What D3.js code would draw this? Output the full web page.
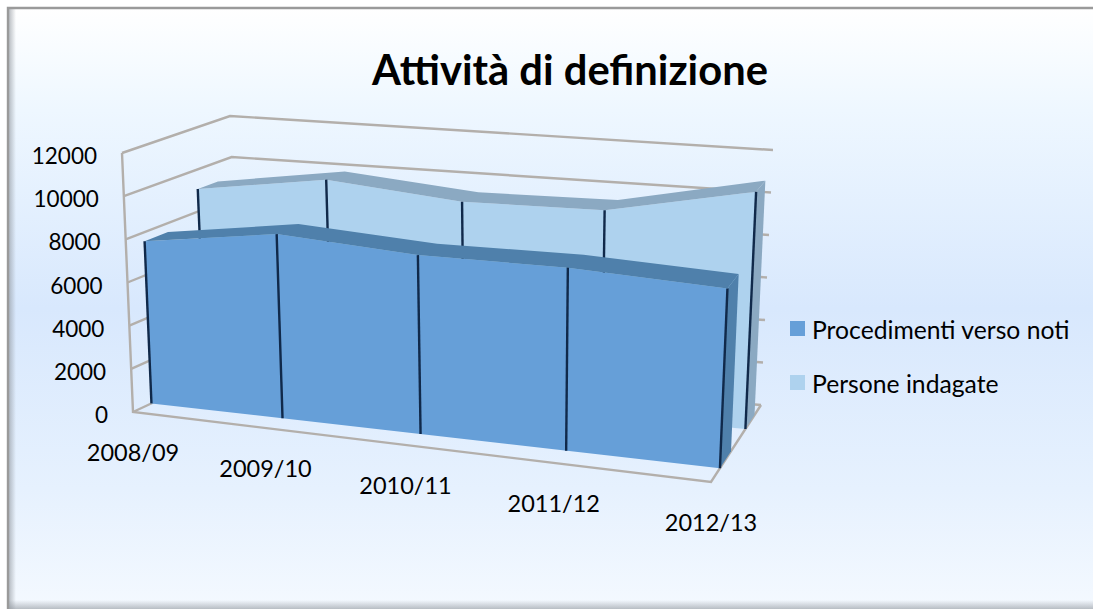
<!DOCTYPE html>
<html>
<head>
<meta charset="utf-8">
<script src="https://cdn.jsdelivr.net/npm/d3@7"></script>
<style>
  html, body { margin: 0; padding: 0; background: #fff; overflow: hidden; }
  text { font-family: Lato, sans-serif; fill: #000; }
</style>
</head>
<body>
<svg></svg>
<script>
const categories = ['2008/09', '2009/10', '2010/11', '2011/12', '2012/13'];
const procedimenti = [7580, 8510, 8170, 8260, 8020];
const persone = [9070, 9990, 9440, 9550, 10930];
const yTicks = [0, 2000, 4000, 6000, 8000, 10000, 12000];
const seriesNames = ['Procedimenti verso noti', 'Persone indagate'];

const width = 1093;
const height = 609;

const svg = d3.select('svg')
  .attr('width', width)
  .attr('height', height);

const defs = svg.append('defs');

// Background of the chart area
const bgGrad = defs.append('linearGradient')
  .attr('id', 'bg').attr('x1', 0).attr('y1', 0).attr('x2', 0).attr('y2', 1);
[[0, '#ffffff'], [0.17, '#eef7ff'], [0.5, '#d8e8fd'], [0.8, '#e6f1fe'], [1, '#f4f9ff']]
  .forEach(s => bgGrad.append('stop').attr('offset', s[0]).attr('stop-color', s[1]));

const edgeGrad = defs.append('linearGradient')
  .attr('id', 'edge').attr('x1', 0).attr('y1', 0).attr('x2', 1).attr('y2', 0);
edgeGrad.append('stop').attr('offset', 0).attr('stop-color', '#8f959c').attr('stop-opacity', 0.6);
edgeGrad.append('stop').attr('offset', 1).attr('stop-color', '#8f959c').attr('stop-opacity', 0);

const bottomGrad = defs.append('linearGradient')
  .attr('id', 'bottom').attr('x1', 0).attr('y1', 0).attr('x2', 0).attr('y2', 1);
bottomGrad.append('stop').attr('offset', 0).attr('stop-color', '#8f959c').attr('stop-opacity', 0);
bottomGrad.append('stop').attr('offset', 1).attr('stop-color', '#8f959c').attr('stop-opacity', 0.6);

svg.append('rect').attr('x', 8).attr('y', 8).attr('width', 1085).attr('height', 601).attr('fill', 'url(#bg)');
svg.append('rect').attr('x', 9).attr('y', 9).attr('width', 7).attr('height', 600).attr('fill', 'url(#edge)');
svg.append('rect').attr('x', 8).attr('y', 600).attr('width', 1085).attr('height', 9).attr('fill', 'url(#bottom)');
svg.append('path').attr('d', 'M8,609V8H1093')
  .attr('fill', 'none').attr('stroke', '#9a9a9a').attr('stroke-width', 2.4);

// Corners of the floor and of the ceiling of the 3D box, as seen on screen
const floorQuad = [[133, 412], [711, 482], [761, 405], [240, 362]];
const topQuad = [[122, 153], [722, 210], [773, 150], [230, 116]];

// square to quad homography
function homography(q) {
  const [[x0, y0], [x1, y1], [x2, y2], [x3, y3]] = q;
  const dx1 = x1 - x2, dx2 = x3 - x2, sx = x0 - x1 + x2 - x3;
  const dy1 = y1 - y2, dy2 = y3 - y2, sy = y0 - y1 + y2 - y3;
  const den = dx1 * dy2 - dx2 * dy1;
  const g = (sx * dy2 - dx2 * sy) / den;
  const h = (dx1 * sy - sx * dy1) / den;
  const a = x1 - x0 + g * x1, b = x3 - x0 + h * x3;
  const d = y1 - y0 + g * y1, e = y3 - y0 + h * y3;
  return (u, v) => {
    const w = g * u + h * v + 1;
    return [(a * u + b * v + x0) / w, (d * u + e * v + y0) / w];
  };
}
const floorH = homography(floorQuad);
const topH = homography(topQuad);

const xScale = d3.scalePoint().domain(categories).range([0, 1]);
const yScale = d3.scaleLinear().domain([0, 12000]).range([0, 1]);

// the categories are less foreshortened than the box itself
const spreadT = (u, s) => s * u / (s * u + 1 - u);

// u along the categories, value, z is the depth in the box
function project(u, value, z) {
  const p0 = floorH(spreadT(u, 1.23), z);
  const p1 = topH(spreadT(u, 1.256), z);
  const k = yScale(value);
  return [p0[0] + (p1[0] - p0[0]) * k, p0[1] + (p1[1] - p0[1]) * k];
}

const line = d3.line();
const chart = svg.append('g');

// Grid lines on the side wall and the back wall
const gridColor = '#b3afab';
yTicks.forEach(v => {
  chart.append('path')
    .attr('d', line([project(0, v, 0), project(0, v, 1), project(1, v, 1)]))
    .attr('fill', 'none')
    .attr('stroke', gridColor)
    .attr('stroke-width', 2.4);
});
chart.append('path')
  .attr('d', line([project(0, 12000, 0), project(0, 0, 0), project(1, 0, 0), project(1, 0, 1)]))
  .attr('fill', 'none')
  .attr('stroke', gridColor)
  .attr('stroke-width', 2.4);

function drawSeries(values, z0, z1, colors) {
  const g = chart.append('g');
  const ts = categories.map(c => xScale(c));

  // right end
  const last = values.length - 1;
  g.append('path')
    .attr('d', line([
      project(1, 0, z0), project(1, values[last], z0),
      project(1, values[last], z1), project(1, 0, z1)
    ]) + 'Z')
    .attr('fill', colors.side);

  // front face
  const front = ts.map((t, i) => project(t, values[i], z0));
  g.append('path')
    .attr('d', line([project(0, 0, z0), ...front, project(1, 0, z0)]) + 'Z')
    .attr('fill', colors.face);

  // top band
  const back = ts.map((t, i) => project(t, values[i], z1));
  g.append('path')
    .attr('d', line([...front, ...back.reverse()]) + 'Z')
    .attr('fill', colors.top);

  // drop lines
  ts.forEach((t, i) => {
    g.append('path')
      .attr('d', line([project(t, 0, z0), project(t, values[i], z0)]))
      .attr('stroke', '#10294a')
      .attr('stroke-width', 2.4);
  });
}

drawSeries(persone, 0.65, 0.85, { face: '#aed2ee', top: '#8ba9c2', side: '#8ba9c2' });
drawSeries(procedimenti, 0.155, 0.36, { face: '#669fd8', top: '#4f80ab', side: '#4f80ab' });

// Value labels
svg.append('g').selectAll('text')
  .data(yTicks)
  .enter()
  .append('text')
  .attr('x', d => project(0, d, 0)[0] - 25)
  .attr('y', d => project(0, d, 0)[1] + 11)
  .attr('text-anchor', 'end')
  .attr('font-size', 22.5)
  .text(d => d);

// Category labels
svg.append('g').selectAll('text')
  .data(categories)
  .enter()
  .append('text')
  .attr('x', d => project(xScale(d), 0, 0)[0])
  .attr('y', d => project(xScale(d), 0, 0)[1] + 49)
  .attr('text-anchor', 'middle')
  .attr('font-size', 23.5)
  .text(d => d);

// Title
svg.append('text')
  .attr('x', 570)
  .attr('y', 85)
  .attr('text-anchor', 'middle')
  .attr('font-size', 41.7)
  .attr('font-weight', 700)
  .text('Attività di definizione');

// Legend
const legendColors = ['#669fd8', '#aed2ee'];
const legendY = [321, 375];
const legend = svg.append('g').selectAll('g')
  .data(seriesNames)
  .enter()
  .append('g');
legend.append('rect')
  .attr('x', 790)
  .attr('y', (d, i) => legendY[i])
  .attr('width', 15)
  .attr('height', 15)
  .attr('fill', (d, i) => legendColors[i]);
legend.append('text')
  .attr('x', 812)
  .attr('y', (d, i) => legendY[i] + 18)
  .attr('font-size', 24.7)
  .text(d => d);
</script>
</body>
</html>
